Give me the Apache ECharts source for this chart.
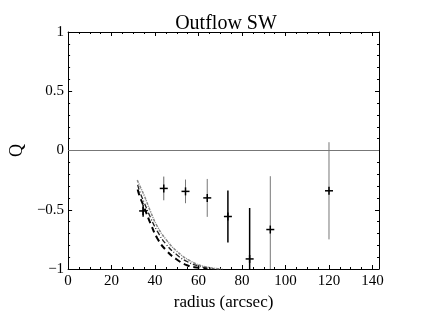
<!DOCTYPE html>
<html>
<head>
<meta charset="UTF-8">
<script src="https://cdn.jsdelivr.net/npm/echarts@6/dist/echarts.min.js"></script>
<style>html,body{margin:0;padding:0;background:#fff}</style>
</head>
<body>
<div id="main" style="width:436px;height:324px;"></div>
<script>
// measured points
var radius = [34.5, 44, 54, 64, 73.5, 83.5, 93, 120];
var qValue = [-0.51, -0.32, -0.345, -0.40, -0.557, -0.915, -0.667, -0.34];
var qError = [0.05, 0.10, 0.10, 0.16, 0.22, 0.43, 0.45, 0.41];
var barColor = ['#000', '#666', '#777', '#777', '#000', '#000', '#777', '#777'];

// model curves
var dashR = [32, 33, 35, 38, 41, 45, 50, 55, 60, 64];
var dashQ = [-0.33, -0.39, -0.48, -0.62, -0.74, -0.84, -0.92, -0.97, -0.99, -1.0];
var dotDashR = [32, 33, 35, 38, 41, 45, 50, 55, 60, 67];
var dotDashQ = [-0.29, -0.35, -0.44, -0.57, -0.68, -0.79, -0.88, -0.94, -0.975, -1.0];
var greyR = [31.8, 33, 35, 38, 41, 45, 50, 56, 63, 71];
var greyQ = [-0.25, -0.30, -0.38, -0.52, -0.64, -0.75, -0.85, -0.93, -0.98, -1.0];

var xTicks = [0, 20, 40, 60, 80, 100, 120, 140];
var yTicks = [-1, -0.5, 0, 0.5, 1];

function pairs(xs, ys) {
    return xs.map(function (x, i) { return [x, ys[i]]; });
}

var font = 'Liberation Serif';
var myChart = echarts.init(document.getElementById('main'));

var line = { onZero: false, lineStyle: { color: '#000', width: 1 } };
var tick = { inside: true, length: 4, lineStyle: { color: '#000' } };
function minor(n) {
    return { show: true, splitNumber: n, length: 2, lineStyle: { color: '#000' } };
}

var option = {
    animation: false,
    title: {
        text: 'Outflow SW',
        left: 221, top: 9, textAlign: 'center',
        textStyle: { fontFamily: font, fontSize: 20, fontWeight: 'normal', color: '#000' }
    },
    grid: { left: 63, right: 57, top: 32, bottom: 55 },
    xAxis: [{
        type: 'value', min: 0, max: 143, interval: 20,
        axisLine: line, axisTick: tick, minorTick: minor(4), splitLine: { show: false },
        name: 'radius (arcsec)', nameLocation: 'middle', nameGap: 25,
        nameTextStyle: { fontFamily: font, fontSize: 17, color: '#000' },
        axisLabel: {
            fontFamily: font, fontSize: 15, color: '#000', margin: 5, showMaxLabel: false,
            formatter: function (v) { return xTicks.indexOf(v) >= 0 ? String(v) : ''; }
        }
    }, {
        type: 'value', min: 0, max: 143, interval: 20, position: 'top',
        axisLine: line, axisTick: tick, minorTick: minor(4), splitLine: { show: false },
        axisLabel: { show: false }
    }],
    yAxis: [{
        type: 'value', min: -1, max: 1, interval: 0.5,
        axisLine: line, axisTick: tick, minorTick: minor(5), splitLine: { show: false },
        name: 'Q', nameLocation: 'middle', nameGap: 30, nameRotate: 90,
        nameTextStyle: { fontFamily: font, fontSize: 18, color: '#000' },
        axisLabel: {
            fontFamily: font, fontSize: 15, color: '#000', margin: 4,
            formatter: function (v) {
                return yTicks.indexOf(v) >= 0 ? String(v).replace('-', '\u2212') : '';
            }
        }
    }, {
        type: 'value', min: -1, max: 1, interval: 0.5, position: 'right',
        axisLine: line, axisTick: tick, minorTick: minor(5), splitLine: { show: false },
        axisLabel: { show: false }
    }],
    series: [
        {
            type: 'line', data: pairs(dashR, dashQ), smooth: true, symbol: 'none',
            lineStyle: { color: '#000', width: 2, type: [6, 4] }, z: 3
        },
        {
            type: 'line', data: pairs(dotDashR, dotDashQ), smooth: true, symbol: 'none',
            lineStyle: { color: '#222', width: 1.3, type: [5, 2, 1, 2] }, z: 3
        },
        {
            type: 'line', data: pairs(greyR, greyQ), smooth: true, symbol: 'none',
            lineStyle: { color: '#888', width: 1.5, type: [3, 1, 1, 1] }, z: 2,
            markLine: {
                silent: true, symbol: 'none', label: { show: false },
                lineStyle: { color: '#777', width: 1, type: 'solid' },
                data: [{ yAxis: 0 }]
            }
        },
        {
            type: 'custom', clip: true, z: 4,
            data: radius.map(function (r, i) { return [r, qValue[i], qError[i], i]; }),
            renderItem: function (params, api) {
                var x = api.value(0), y = api.value(1), e = api.value(2), i = api.value(3);
                var top = api.coord([x, y + e]);
                var bot = api.coord([x, y - e]);
                var c = api.coord([x, y]);
                return {
                    type: 'group',
                    children: [
                        { type: 'line', shape: { x1: top[0], y1: top[1], x2: bot[0], y2: bot[1] },
                          style: { stroke: barColor[i], lineWidth: barColor[i] === '#000' ? 1.5 : 1 } },
                        { type: 'line', shape: { x1: c[0] - 4, y1: c[1], x2: c[0] + 4, y2: c[1] },
                          style: { stroke: '#000', lineWidth: 1.5 } },
                        { type: 'line', shape: { x1: c[0], y1: c[1] - 4, x2: c[0], y2: c[1] + 4 },
                          style: { stroke: '#000', lineWidth: 1.5 } }
                    ]
                };
            }
        }
    ]
};

myChart.setOption(option);
</script>
</body>
</html>
